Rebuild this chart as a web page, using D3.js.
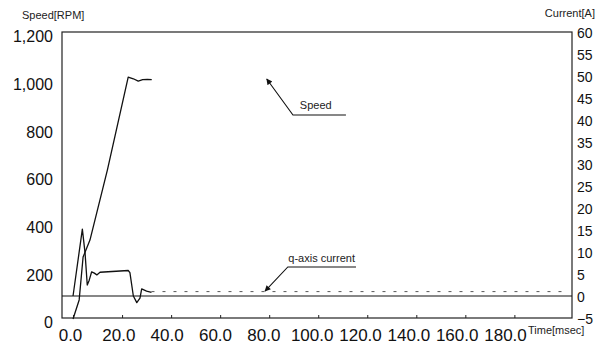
<!DOCTYPE html>
<html>
<head>
<meta charset="utf-8">
<script src="https://cdn.jsdelivr.net/npm/d3@7"></script>
<style>
  body { margin: 0; background: #fff; }
  svg { display: block; font-family: "Liberation Sans", Arial, sans-serif; }
</style>
</head>
<body>
<div id="graph"></div>
<script>

// speed trace (time in msec, speed in rpm)
var speedTime = [0, 2.5, 4.1, 6.9, 14.0, 22.5, 24.6, 26.6, 28.4, 30.3, 32.1];
var speedRpm = [0, 80, 260, 331, 625, 1015, 1008, 998, 1004, 1005, 1004];

// q-axis current trace (time in msec, current in A)
var currentTime = [0, 3.8, 4.9, 5.8, 6.6, 7.6, 8.7, 9.7, 11.0, 22.5, 23.2, 24.6, 26.0, 27.3, 28.0, 30.0, 32.0];
var currentAmp = [0, 15.2, 9.8, 2.5, 3.6, 5.5, 5.2, 4.8, 5.4, 5.8, 5.3, 0, -1.5, -0.5, 1.6, 1.1, 0.8];

// faint dotted continuation of the current after the transient
var tailTime = [32.0, 200.0];
var tailAmp = [1.0, 1.0];

// tick labels
var xTicks = [0, 20, 40, 60, 80, 100, 120, 140, 160, 180];
var speedTicks = [0, 200, 400, 600, 800, 1000, 1200];
var currentTicks = [-5, 0, 5, 10, 15, 20, 25, 30, 35, 40, 45, 50, 55, 60];

function makeChart() {

  var svgWidth = 605;
  var svgHeight = 345;

  var plot = { left: 62, right: 572, top: 32, bottom: 318 };

  var svg = d3.select("#graph")
    .append("svg")
    .attr("width", svgWidth)
    .attr("height", svgHeight);

  var xScale = d3.scaleLinear()
    .domain([-4.5, 203.5])
    .range([plot.left, plot.right]);

  // the printed labels drift a little left of the ticks
  var labelScale = d3.scaleLinear()
    .domain([0, 180])
    .range([70, 505]);

  var speedScale = d3.scaleLinear()
    .domain([0, 1200])
    .range([319, 33]);

  var currentScale = d3.scaleLinear()
    .domain([-5, 60])
    .range([plot.bottom, plot.top]);

  // frame
  svg.append("rect")
    .attr("x", plot.left)
    .attr("y", plot.top)
    .attr("width", plot.right - plot.left)
    .attr("height", plot.bottom - plot.top)
    .attr("fill", "none")
    .attr("stroke", "#222")
    .attr("stroke-width", 1.2);

  // zero current line
  svg.append("line")
    .attr("x1", plot.left)
    .attr("x2", plot.right)
    .attr("y1", currentScale(0))
    .attr("y2", currentScale(0))
    .attr("stroke", "#111")
    .attr("stroke-width", 1.1);

  // bottom ticks (inside)
  var tickAxis = svg.append("g")
    .attr("transform", `translate(0, ${plot.bottom})`)
    .call(d3.axisBottom(xScale).tickValues(xTicks).tickSize(-3).tickFormat(""));
  tickAxis.select(".domain").remove();
  tickAxis.selectAll("line").attr("stroke", "#222");

  // bottom labels
  var xLabels = svg.append("g")
    .attr("transform", `translate(0, ${plot.bottom})`)
    .call(d3.axisBottom(labelScale).tickValues(xTicks).tickSize(0).tickPadding(11).tickFormat(d3.format(".1f")));
  xLabels.select(".domain").remove();
  xLabels.selectAll("text")
    .attr("font-size", 17)
    .attr("font-family", "Liberation Sans, Arial, sans-serif")
    .attr("fill", "#111");

  // left axis labels
  var leftAxis = svg.append("g")
    .attr("transform", `translate(${plot.left}, 0)`)
    .call(d3.axisLeft(speedScale).tickValues(speedTicks).tickSize(0).tickPadding(9).tickFormat(d3.format(",")));
  leftAxis.select(".domain").remove();
  leftAxis.selectAll("text")
    .attr("font-size", 16)
    .attr("dy", "0.55em")
    .attr("font-family", "Liberation Sans, Arial, sans-serif")
    .attr("fill", "#111");

  // right axis labels
  var rightAxis = svg.append("g")
    .attr("transform", `translate(${plot.right}, 0)`)
    .call(d3.axisRight(currentScale).tickValues(currentTicks).tickSize(0).tickPadding(5).tickFormat(d3.format("d")));
  rightAxis.select(".domain").remove();
  rightAxis.selectAll("text")
    .attr("font-size", 14)
    .attr("dy", "0.4em")
    .attr("font-family", "Liberation Sans, Arial, sans-serif")
    .attr("fill", "#111");

  // axis titles
  svg.append("text")
    .attr("x", 22)
    .attr("y", 19)
    .attr("font-size", 11)
    .attr("fill", "#222")
    .text("Speed[RPM]");

  svg.append("text")
    .attr("x", 595)
    .attr("y", 17)
    .attr("text-anchor", "end")
    .attr("font-size", 11)
    .attr("fill", "#222")
    .text("Current[A]");

  svg.append("text")
    .attr("x", 528)
    .attr("y", 334)
    .attr("font-size", 11)
    .attr("fill", "#222")
    .text("Time[msec]");

  // traces
  var speedData = speedTime.map((t, i) => ({ t: t, v: speedRpm[i] }));
  var currentData = currentTime.map((t, i) => ({ t: t, v: currentAmp[i] }));
  var tailData = tailTime.map((t, i) => ({ t: t, v: tailAmp[i] }));

  var speedLine = d3.line()
    .x(d => xScale(d.t))
    .y(d => speedScale(d.v));

  var currentLine = d3.line()
    .x(d => xScale(d.t))
    .y(d => currentScale(d.v));

  svg.append("path")
    .datum(tailData)
    .attr("d", currentLine)
    .attr("fill", "none")
    .attr("stroke", "#555")
    .attr("stroke-width", 1)
    .attr("stroke-dasharray", "3,8");

  svg.append("path")
    .datum(currentData)
    .attr("d", currentLine)
    .attr("fill", "none")
    .attr("stroke", "#111")
    .attr("stroke-width", 1.3)
    .attr("stroke-linejoin", "round");

  svg.append("path")
    .datum(speedData)
    .attr("d", speedLine)
    .attr("fill", "none")
    .attr("stroke", "#111")
    .attr("stroke-width", 1.3)
    .attr("stroke-linejoin", "round");

  // annotations with arrows
  svg.append("defs").append("marker")
    .attr("id", "arrow")
    .attr("viewBox", "0 0 10 10")
    .attr("refX", 9)
    .attr("refY", 5)
    .attr("markerWidth", 8)
    .attr("markerHeight", 6)
    .attr("markerUnits", "userSpaceOnUse")
    .attr("orient", "auto")
    .append("path")
    .attr("d", "M0,0L10,5L0,10Z")
    .attr("fill", "#111");

  var notes = [
    { label: "Speed", tipT: 79, tipY: speedScale(1007), bendT: 89.7, bendY: speedScale(856), endT: 111.3, textT: 92.5, textY: speedScale(881) },
    { label: "q-axis current", tipT: 78.3, tipY: currentScale(1.1), bendT: 87.6, bendY: currentScale(6.6), endT: 115.4, textT: 87.8, textY: currentScale(7.7) }
  ];

  notes.forEach(function(n) {
    svg.append("polyline")
      .attr("points", `${xScale(n.endT)},${n.bendY} ${xScale(n.bendT)},${n.bendY} ${xScale(n.tipT)},${n.tipY}`)
      .attr("fill", "none")
      .attr("stroke", "#111")
      .attr("stroke-width", 1.1)
      .attr("marker-end", "url(#arrow)");

    svg.append("text")
      .attr("x", xScale(n.textT))
      .attr("y", n.textY)
      .attr("font-size", 11)
      .attr("fill", "#222")
      .text(n.label);
  });
}

makeChart();

</script>
</body>
</html>
